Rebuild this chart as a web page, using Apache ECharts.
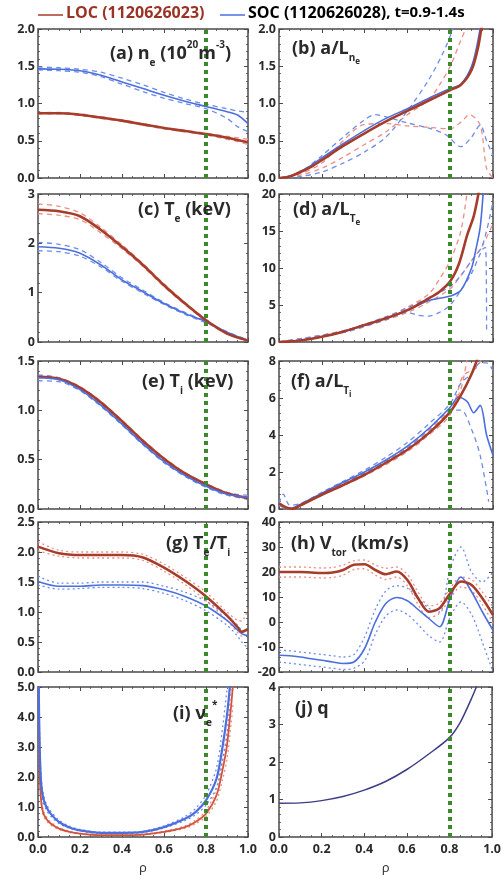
<!DOCTYPE html>
<html><head><meta charset="utf-8">
<script src="https://cdn.jsdelivr.net/npm/echarts@6/dist/echarts.min.js"></script>
<style>html,body{margin:0;padding:0;background:#fff}#c{width:504px;height:876px}</style>
</head><body><div id="c"></div>
<script>
// ---------- tick labels ----------
const xTicks = [0, 0.2, 0.4, 0.6, 0.8, 1.0];
const yTicksA = [0, 0.5, 1.0, 1.5, 2.0];
const yTicksB = [0, 0.5, 1.0, 1.5, 2.0];
const yTicksC = [0, 1, 2, 3];
const yTicksD = [0, 5, 10, 15, 20];
const yTicksE = [0, 0.5, 1.0, 1.5];
const yTicksF = [0, 2, 4, 6, 8];
const yTicksG = [0, 0.5, 1.0, 1.5, 2.0, 2.5];
const yTicksH = [-20, -10, 0, 10, 20, 30, 40];
const yTicksI = [0, 1, 2, 3, 4, 5];
const yTicksJ = [0, 1, 2, 3, 4];
const rhoRef = 0.8;

// ---------- (a) n_e ----------
const rhoA = [0, 0.1, 0.2, 0.3, 0.4, 0.5, 0.6, 0.7, 0.8, 0.9, 0.95, 1.0];
const neLOC   = [0.87, 0.87, 0.85, 0.81, 0.77, 0.72, 0.67, 0.63, 0.59, 0.54, 0.51, 0.48];
const neLOCup = [0.88, 0.88, 0.86, 0.82, 0.78, 0.73, 0.68, 0.64, 0.60, 0.56, 0.54, 0.52];
const neLOClo = [0.86, 0.86, 0.84, 0.80, 0.76, 0.71, 0.66, 0.62, 0.58, 0.52, 0.49, 0.45];
const neSOC   = [1.465, 1.46, 1.44, 1.38, 1.29, 1.20, 1.11, 1.03, 0.96, 0.89, 0.845, 0.73];
const neSOCup = [1.49, 1.48, 1.46, 1.42, 1.34, 1.25, 1.15, 1.06, 0.99, 0.93, 0.90, 0.88];
const neSOClo = [1.45, 1.44, 1.42, 1.36, 1.26, 1.16, 1.07, 1.00, 0.93, 0.80, 0.69, 0.62];

// ---------- (b) a/L_ne ----------
const rhoB = [0, 0.05, 0.1, 0.15, 0.2, 0.3, 0.4, 0.5, 0.6, 0.7, 0.8, 0.85, 0.9, 0.93, 0.95];
const bLOC = [0, 0.02, 0.08, 0.15, 0.24, 0.43, 0.60, 0.76, 0.90, 1.04, 1.18, 1.25, 1.45, 1.75, 2.1];
const bSOC = [0, 0.02, 0.09, 0.17, 0.27, 0.46, 0.64, 0.80, 0.93, 1.07, 1.20, 1.26, 1.50, 1.85, 2.2];
const rhoBLOCup = [0, 0.1, 0.2, 0.3, 0.4, 0.5, 0.6, 0.7, 0.75, 0.8, 0.85, 0.88];
const bLOCup    = [0, 0.04, 0.13, 0.28, 0.45, 0.62, 0.85, 1.05, 1.25, 1.5, 1.85, 2.05];
const rhoBLOClo = [0, 0.1, 0.2, 0.3, 0.4, 0.5, 0.6, 0.7, 0.8, 0.85, 0.89, 0.94, 0.97, 1.0];
const bLOClo    = [0, 0.06, 0.2, 0.5, 0.72, 0.73, 0.70, 0.68, 0.66, 0.75, 0.85, 0.71, 0.13, 0.0];
const rhoBSOCup = [0, 0.1, 0.2, 0.3, 0.4, 0.45, 0.5, 0.6, 0.7, 0.78, 0.85, 0.9, 0.94, 0.97, 1.0];
const bSOCup    = [0, 0.08, 0.3, 0.55, 0.78, 0.85, 0.82, 0.74, 0.67, 0.58, 0.42, 0.55, 0.71, 0.5, 0.3];
const rhoBSOClo = [0, 0.1, 0.2, 0.3, 0.4, 0.5, 0.6, 0.7, 0.77, 0.82];
const bSOClo    = [0, 0.02, 0.08, 0.2, 0.35, 0.55, 0.9, 1.32, 1.7, 2.05];

// ---------- (c) T_e ----------
const rhoC = [0, 0.1, 0.2, 0.3, 0.4, 0.5, 0.6, 0.7, 0.8, 0.9, 1.0];
const teLOC   = [2.68, 2.65, 2.55, 2.27, 1.93, 1.56, 1.15, 0.78, 0.44, 0.17, 0.03];
const teLOCup = [2.80, 2.75, 2.62, 2.32, 1.97, 1.59, 1.18, 0.80, 0.46, 0.18, 0.03];
const teLOClo = [2.60, 2.57, 2.48, 2.21, 1.89, 1.53, 1.12, 0.76, 0.42, 0.16, 0.03];
const teSOC   = [1.93, 1.90, 1.80, 1.56, 1.26, 1.02, 0.78, 0.58, 0.41, 0.20, 0.03];
const teSOCup = [2.02, 1.98, 1.87, 1.61, 1.30, 1.05, 0.80, 0.60, 0.42, 0.21, 0.04];
const teSOClo = [1.85, 1.83, 1.74, 1.52, 1.23, 0.99, 0.76, 0.56, 0.39, 0.19, 0.02];

// ---------- (d) a/L_Te ----------
const rhoDLOC = [0, 0.1, 0.2, 0.3, 0.4, 0.5, 0.6, 0.7, 0.75, 0.8, 0.84, 0.88, 0.91, 0.935];
const dLOC    = [0, 0.2, 0.7, 1.4, 2.3, 3.2, 4.3, 5.9, 6.8, 8.2, 10.5, 14.5, 17.0, 20.5];
const rhoDSOC = [0, 0.1, 0.2, 0.3, 0.4, 0.5, 0.6, 0.7, 0.75, 0.8, 0.85, 0.9, 0.92, 0.94, 0.955];
const dSOC    = [0, 0.2, 0.7, 1.4, 2.3, 3.2, 4.3, 5.6, 5.9, 6.2, 7.0, 10.0, 12.5, 15.5, 20.5];
const rhoDLOCup = [0, 0.3, 0.5, 0.6, 0.7, 0.75, 0.8, 0.85, 0.88];
const dLOCup    = [0, 1.5, 3.4, 4.7, 6.5, 8.5, 11.0, 15.0, 20.5];
const rhoDLOClo = [0, 0.3, 0.5, 0.6, 0.7, 0.8, 0.85, 0.9, 0.95, 1.0];
const dLOClo    = [0, 1.3, 3.0, 4.0, 5.4, 7.2, 9.0, 11.0, 13.0, 16.0];
const rhoDSOCup = [0, 0.3, 0.5, 0.6, 0.7, 0.8, 0.85, 0.9, 0.95, 1.0];
const dSOCup    = [0, 1.5, 3.4, 4.6, 6.0, 7.5, 9.0, 11.0, 13.0, 19.0];
const rhoDSOClo = [0, 0.3, 0.5, 0.6, 0.65, 0.7, 0.75, 0.8, 0.85, 0.9, 0.95, 0.965, 0.97];
const dSOClo    = [0, 1.3, 3.0, 4.0, 3.6, 3.5, 4.0, 5.0, 7.0, 9.3, 12.5, 12.8, 1.2];

// ---------- (e) T_i ----------
const rhoE = [0, 0.1, 0.2, 0.3, 0.4, 0.5, 0.6, 0.7, 0.8, 0.9, 1.0];
const tiLOC   = [1.34, 1.32, 1.23, 1.08, 0.89, 0.69, 0.51, 0.36, 0.25, 0.16, 0.11];
const tiLOCup = [1.35, 1.33, 1.24, 1.09, 0.90, 0.70, 0.52, 0.37, 0.26, 0.17, 0.12];
const tiLOClo = [1.33, 1.31, 1.22, 1.07, 0.88, 0.68, 0.50, 0.35, 0.24, 0.15, 0.10];
const tiSOC   = [1.33, 1.31, 1.21, 1.05, 0.86, 0.66, 0.48, 0.34, 0.23, 0.15, 0.12];
const tiSOCup = [1.36, 1.33, 1.22, 1.06, 0.87, 0.67, 0.49, 0.35, 0.24, 0.16, 0.14];
const tiSOClo = [1.30, 1.29, 1.20, 1.04, 0.85, 0.65, 0.47, 0.33, 0.22, 0.14, 0.10];

// ---------- (f) a/L_Ti ----------
const rhoFLOC = [0, 0.03, 0.06, 0.1, 0.2, 0.3, 0.4, 0.5, 0.6, 0.7, 0.8, 0.85, 0.9, 0.93];
const fLOC    = [0.3, 0.1, 0.0, 0.2, 0.77, 1.3, 1.85, 2.5, 3.2, 4.1, 5.25, 6.15, 7.3, 8.2];
const rhoFSOC = [0, 0.03, 0.06, 0.1, 0.2, 0.3, 0.4, 0.5, 0.6, 0.7, 0.8, 0.84, 0.88, 0.91, 0.94, 0.97, 1.0];
const fSOC    = [0.3, 0.1, 0.05, 0.25, 0.85, 1.45, 2.0, 2.65, 3.4, 4.35, 5.5, 6.05, 5.8, 5.2, 5.6, 4.0, 2.9];
const rhoFLOCup = [0, 0.05, 0.1, 0.2, 0.3, 0.4, 0.5, 0.6, 0.7, 0.8, 0.85, 0.88];
const fLOCup    = [0.3, 0.05, 0.25, 0.8, 1.35, 1.9, 2.6, 3.3, 4.2, 5.4, 6.5, 8.2];
const rhoFLOClo = [0, 0.05, 0.1, 0.2, 0.3, 0.4, 0.5, 0.6, 0.7, 0.8, 0.86, 0.92, 0.95];
const fLOClo    = [0.2, 0.0, 0.2, 0.75, 1.25, 1.8, 2.4, 3.1, 4.0, 5.1, 7.2, 7.6, 8.2];
const rhoFSOCup = [0, 0.02, 0.05, 0.1, 0.2, 0.3, 0.4, 0.5, 0.6, 0.7, 0.8, 0.85, 0.9, 0.94, 0.97, 1.0];
const fSOCup    = [0.3, 0.8, 0.2, 0.3, 0.9, 1.5, 2.1, 2.8, 3.6, 4.6, 5.7, 6.8, 7.3, 7.9, 7.9, 7.5];
const rhoFSOClo = [0, 0.05, 0.1, 0.2, 0.3, 0.4, 0.5, 0.6, 0.7, 0.8, 0.85, 0.9, 0.94, 0.98];
const fSOClo    = [0.2, 0.0, 0.2, 0.8, 1.4, 1.95, 2.55, 3.3, 4.3, 5.3, 5.35, 4.3, 2.9, 0.4];

// ---------- (g) Te/Ti ----------
const rhoG = [0, 0.1, 0.2, 0.3, 0.4, 0.5, 0.6, 0.7, 0.8, 0.9, 0.95, 0.97, 1.0];
const gLOC   = [2.09, 1.98, 1.95, 1.95, 1.95, 1.91, 1.74, 1.52, 1.26, 0.94, 0.75, 0.67, 0.72];
const gLOCup = [2.17, 2.03, 2.00, 2.00, 2.00, 1.96, 1.80, 1.58, 1.33, 1.00, 0.86, 0.85, 1.05];
const gLOClo = [2.02, 1.93, 1.90, 1.90, 1.90, 1.86, 1.68, 1.46, 1.19, 0.86, 0.66, 0.60, 0.62];
const gSOC   = [1.51, 1.43, 1.43, 1.45, 1.45, 1.44, 1.37, 1.26, 1.10, 0.86, 0.70, 0.64, 0.60];
const gSOCup = [1.60, 1.48, 1.48, 1.50, 1.50, 1.50, 1.43, 1.33, 1.18, 0.93, 0.78, 0.70, 0.66];
const gSOClo = [1.45, 1.38, 1.39, 1.41, 1.41, 1.39, 1.31, 1.19, 1.02, 0.78, 0.60, 0.50, 0.40];

// ---------- (h) V_tor ----------
const rhoH = [0, 0.05, 0.1, 0.15, 0.2, 0.25, 0.3, 0.35, 0.4, 0.45, 0.5, 0.55, 0.6, 0.65, 0.7, 0.75, 0.8, 0.85, 0.9, 0.95, 1.0];
const hLOC   = [20, 20, 20, 19.8, 19.6, 19.8, 20.8, 22.9, 23.1, 20.8, 19.1, 20.2, 16.8, 9.5, 4.1, 5.5, 11.5, 16.2, 14.8, 9.5, 2.8];
const hLOCup = [22, 22, 22, 21.8, 21.6, 21.8, 22.8, 24.5, 24.8, 22.8, 21.5, 22.0, 19.0, 12.0, 6.5, 7.5, 13.5, 18.0, 17.0, 12.0, 6.0];
const hLOClo = [18, 18, 18, 17.8, 17.6, 17.8, 18.8, 21.0, 21.3, 18.8, 17.0, 18.0, 14.5, 7.0, 1.8, 3.5, 9.5, 14.0, 12.5, 7.0, -0.5];
const hSOC   = [-13.3, -13.5, -14, -14.7, -15.3, -16, -16.6, -16, -10.6, 0, 7.5, 9.8, 8.5, 5, 1.4, -1.9, 9.6, 18, 12.1, 4.1, -3.3];
const hSOCup = [-11.3, -11.5, -12, -12.5, -13, -13.5, -14, -13, -6, 5, 12.5, 14.5, 13.5, 9.5, 5.5, 4, 21.5, 30, 20, 16, 20];
const hSOClo = [-16, -16.5, -17, -17.5, -18, -18.5, -19, -18.5, -15.5, -5, 2.5, 4.8, 3, -1, -5.5, -8, 2, 8, 3, -8, -20];

// ---------- (i) nu_e* ----------
const rhoISOC = [0.003, 0.008, 0.015, 0.025, 0.04, 0.06, 0.1, 0.15, 0.2, 0.3, 0.4, 0.5, 0.6, 0.7, 0.75, 0.8, 0.85, 0.88, 0.9, 0.915];
const iSOC    = [5.2, 3.0, 1.8, 1.3, 1.0, 0.78, 0.5, 0.32, 0.22, 0.14, 0.14, 0.17, 0.33, 0.61, 0.83, 1.22, 1.94, 3.06, 4.06, 5.1];
const iSOCup  = [5.5, 3.3, 2.0, 1.45, 1.1, 0.86, 0.56, 0.36, 0.25, 0.16, 0.16, 0.19, 0.37, 0.68, 0.95, 1.4, 2.3, 3.7, 4.9, 5.5];
const iSOClo  = [4.8, 2.7, 1.6, 1.15, 0.9, 0.7, 0.45, 0.29, 0.2, 0.12, 0.12, 0.15, 0.3, 0.55, 0.74, 1.06, 1.65, 2.6, 3.4, 4.3];
const rhoILOC = [0.003, 0.008, 0.015, 0.025, 0.04, 0.06, 0.1, 0.15, 0.2, 0.3, 0.4, 0.5, 0.6, 0.7, 0.75, 0.8, 0.85, 0.88, 0.9, 0.92, 0.93];
const iLOC    = [5.2, 2.2, 1.2, 0.8, 0.6, 0.45, 0.28, 0.17, 0.11, 0.06, 0.06, 0.08, 0.17, 0.33, 0.5, 0.78, 1.39, 2.28, 3.06, 4.4, 5.2];
const iLOCup  = [5.5, 2.5, 1.35, 0.9, 0.67, 0.5, 0.31, 0.19, 0.12, 0.07, 0.07, 0.09, 0.19, 0.37, 0.56, 0.88, 1.6, 2.6, 3.5, 5.0, 5.6];
const iLOClo  = [4.8, 2.0, 1.1, 0.72, 0.54, 0.4, 0.25, 0.15, 0.1, 0.05, 0.05, 0.07, 0.15, 0.29, 0.44, 0.68, 1.2, 1.95, 2.6, 3.8, 4.5];

// ---------- (j) q ----------
const rhoJ = [0, 0.1, 0.2, 0.3, 0.4, 0.5, 0.6, 0.7, 0.8, 0.85, 0.9, 0.93];
const qProf = [0.9, 0.91, 0.97, 1.08, 1.25, 1.48, 1.8, 2.2, 2.65, 3.05, 3.65, 4.05];

// ---------- styles ----------
const C = {
  loc: '#a63d2b', locThin: '#d0553d', soc: '#4b6fdf', locB: '#ec8e84', socB: '#6f8ce8',
  green: '#3c8a2c', frame: '#4a4a4a', text: '#2a2a2a', q: '#3d3f86'
};
const FONT = 'Open Sans';
const LEFT = {left: 38, width: 210}, RIGHT = {left: 279, width: 214};
const ROWS = [[29, 149], [194, 148], [361, 148], [522, 150], [687, 150]];

function pts(xs, ys) { return xs.map((x, i) => [x, ys[i]]); }

const panels = [
  {col: LEFT, row: 0, ticks: yTicksA, dec: 1, bt: 'dashed', sets: [
    [rhoA, neLOCup, 'locB'], [rhoA, neLOClo, 'locB'], [rhoA, neSOCup, 'socB'], [rhoA, neSOClo, 'socB'],
    [rhoA, neSOC, 'soc'], [rhoA, neLOC, 'loc']]},
  {col: RIGHT, row: 0, ticks: yTicksB, dec: 1, bt: 'dashed', sets: [
    [rhoBLOCup, bLOCup, 'locB'], [rhoBLOClo, bLOClo, 'locB'], [rhoBSOCup, bSOCup, 'socB'], [rhoBSOClo, bSOClo, 'socB'],
    [rhoB, bSOC, 'soc'], [rhoB, bLOC, 'loc']]},
  {col: LEFT, row: 1, ticks: yTicksC, dec: 0, bt: 'dashed', sets: [
    [rhoC, teLOCup, 'locB'], [rhoC, teLOClo, 'locB'], [rhoC, teSOCup, 'socB'], [rhoC, teSOClo, 'socB'],
    [rhoC, teSOC, 'soc'], [rhoC, teLOC, 'loc']]},
  {col: RIGHT, row: 1, ticks: yTicksD, dec: 0, bt: 'dashed', sets: [
    [rhoDLOCup, dLOCup, 'locB'], [rhoDLOClo, dLOClo, 'locB'], [rhoDSOCup, dSOCup, 'socB'], [rhoDSOClo, dSOClo, 'socB'],
    [rhoDSOC, dSOC, 'soc'], [rhoDLOC, dLOC, 'loc']]},
  {col: LEFT, row: 2, ticks: yTicksE, dec: 1, bt: 'dashed', sets: [
    [rhoE, tiLOCup, 'locB'], [rhoE, tiLOClo, 'locB'], [rhoE, tiSOCup, 'socB'], [rhoE, tiSOClo, 'socB'],
    [rhoE, tiLOC, 'loc'], [rhoE, tiSOC, 'soc']]},
  {col: RIGHT, row: 2, ticks: yTicksF, dec: 0, bt: 'dashed', sets: [
    [rhoFLOCup, fLOCup, 'locB'], [rhoFLOClo, fLOClo, 'locB'], [rhoFSOCup, fSOCup, 'socB'], [rhoFSOClo, fSOClo, 'socB'],
    [rhoFSOC, fSOC, 'soc'], [rhoFLOC, fLOC, 'loc']]},
  {col: LEFT, row: 3, ticks: yTicksG, dec: 1, bt: 'dotted', sets: [
    [rhoG, gLOCup, 'locB'], [rhoG, gLOClo, 'locB'], [rhoG, gSOCup, 'socB'], [rhoG, gSOClo, 'socB'],
    [rhoG, gSOC, 'soc'], [rhoG, gLOC, 'loc']]},
  {col: RIGHT, row: 3, ticks: yTicksH, dec: 0, bt: 'dotted', sets: [
    [rhoH, hLOCup, 'locB'], [rhoH, hLOClo, 'locB'], [rhoH, hSOCup, 'socB'], [rhoH, hSOClo, 'socB'],
    [rhoH, hSOC, 'soc'], [rhoH, hLOC, 'loc']]},
  {col: LEFT, row: 4, ticks: yTicksI, dec: 1, bt: 'dotted', sets: [
    [rhoILOC, iLOCup, 'locB'], [rhoILOC, iLOClo, 'locB'], [rhoISOC, iSOCup, 'socB'], [rhoISOC, iSOClo, 'socB'],
    [rhoILOC, iLOC, 'locThin'], [rhoISOC, iSOC, 'socThick']]},
  {col: RIGHT, row: 4, ticks: yTicksJ, dec: 0, bt: 'dotted', sets: [
    [rhoJ, qProf, 'q']]}
];

const grid = [], xAxis = [], yAxis = [], series = [];
const tickStyle = {show: true, inside: true, length: 4, lineStyle: {color: C.frame, width: 1}};
const minorStyle = {show: true, splitNumber: 4, length: 2, lineStyle: {color: C.frame, width: 0.8}};
const lblStyle = {color: C.text, fontSize: 12.5, fontWeight: 'bold', fontFamily: FONT};

panels.forEach((p, i) => {
  const [top, h] = ROWS[p.row];
  grid.push({left: p.col.left, width: p.col.width, top: top, height: h, show: true,
    borderColor: C.frame, borderWidth: 1.5, backgroundColor: '#fff', containLabel: false});
  const last = p.row === 4;
  const xBase = {type: 'value', gridIndex: i, min: xTicks[0], max: xTicks[xTicks.length - 1],
    interval: xTicks[1] - xTicks[0], splitLine: {show: false}, axisLine: {show: false, onZero: false},
    axisTick: tickStyle, minorTick: minorStyle};
  xAxis.push(Object.assign({}, xBase, {position: 'bottom',
    axisLabel: {show: last, margin: 6, formatter: v => v.toFixed(1), ...lblStyle},
    name: last ? 'ρ' : '', nameLocation: 'middle', nameGap: 25,
    nameTextStyle: {color: C.text, fontSize: 13, fontFamily: FONT}}));
  xAxis.push(Object.assign({}, xBase, {position: 'top', axisLabel: {show: false}}));
  const t = p.ticks;
  const yBase = {type: 'value', gridIndex: i, min: t[0], max: t[t.length - 1], interval: t[1] - t[0],
    splitLine: {show: false}, axisLine: {show: false, onZero: false}, axisTick: tickStyle,
    minorTick: Object.assign({}, minorStyle, {splitNumber: 5})};
  yAxis.push(Object.assign({}, yBase, {position: 'left',
    axisLabel: {show: true, margin: 3, formatter: v => v.toFixed(p.dec), ...lblStyle}}));
  yAxis.push(Object.assign({}, yBase, {position: 'right', axisLabel: {show: false}}));

  p.sets.forEach(([xs, ys, role], k) => {
    let ls;
    if (role === 'loc') ls = {color: C.loc, width: 2.6, type: 'solid'};
    else if (role === 'locThin') ls = {color: C.locThin, width: 1.8, type: 'solid'};
    else if (role === 'soc') ls = {color: C.soc, width: 1.6, type: 'solid'};
    else if (role === 'socThick') ls = {color: C.soc, width: 2.2, type: 'solid'};
    else if (role === 'q') ls = {color: C.q, width: 1.5, type: 'solid'};
    else {
      const dash = p.bt === 'dashed' ? [5, 4] : [2, 3];
      ls = {color: role === 'locB' ? C.locB : C.socB, width: 1.3, type: dash};
    }
    const s = {type: 'line', xAxisIndex: 2 * i, yAxisIndex: 2 * i, data: pts(xs, ys),
      showSymbol: false, smooth: 0.3, lineStyle: ls, clip: true, silent: true, z: 2 + k};
    if (k === p.sets.length - 1) {
      s.markLine = {silent: true, symbol: ['none', 'none'], label: {show: false},
        lineStyle: {color: C.green, width: 4, type: [4, 4]}, z: 20,
        data: [{xAxis: rhoRef}]};
    }
    series.push(s);
  });
});

const rich = {
  m: {fontSize: 18, fontWeight: 'bold', fontFamily: FONT, color: C.text, lineHeight: 24, verticalAlign: 'middle'},
  sub: {fontSize: 10, fontWeight: 'bold', fontFamily: FONT, color: C.text, verticalAlign: 'bottom', lineHeight: 14, padding: [0, 0, -2, 0]},
  ss: {fontSize: 8, fontWeight: 'bold', fontFamily: FONT, color: C.text, verticalAlign: 'bottom', lineHeight: 10, padding: [0, 0, -5, 0]},
  sup: {fontSize: 10, fontWeight: 'bold', fontFamily: FONT, color: C.text, verticalAlign: 'top', lineHeight: 14, padding: [-2, 0, 0, 0]}
};
function label(x, y, text) {
  return {type: 'text', left: x, top: y - 12, z: 50, style: {text: text, rich: rich, font: 'bold 18px ' + FONT, fill: C.text}};
}
const graphic = [
  {type: 'line', shape: {x1: 38, y1: 15, x2: 63, y2: 15}, style: {stroke: C.loc, lineWidth: 1.5}},
  {type: 'text', left: 66, top: 5, style: {text: 'LOC (1120626023)', font: 'bold 16px ' + FONT, fill: '#9a3323'}},
  {type: 'line', shape: {x1: 220, y1: 15, x2: 245, y2: 15}, style: {stroke: C.soc, lineWidth: 1.5}},
  {type: 'text', left: 248, top: 5, style: {text: '{s|SOC (1120626028)}{k|, t=0.9-1.4s}',
    rich: {s: {font: 'bold 16px ' + FONT, color: '#3d62c2'}, k: {font: 'bold 15px ' + FONT, color: '#222'}}}},
  label(110, 52, '{m|(a) n}{sub|e}{m| (10}{sup|20}{m|m}{sup|-3}{m|)}'),
  label(292, 52, '{m|(b) a/L}{sub|n}{ss|e}'),
  label(138, 213, '{m|(c) T}{sub|e}{m| (keV)}'),
  label(293, 213, '{m|(d) a/L}{sub|T}{ss|e}'),
  label(142, 385, '{m|(e) T}{sub|i}{m| (keV)}'),
  label(291, 385, '{m|(f) a/L}{sub|T}{ss|i}'),
  label(166, 547, '{m|(g) T}{sub|e}{m|/T}{sub|i}'),
  label(291, 547, '{m|(h) V}{sub|tor}{m| (km/s)}'),
  label(173, 712, '{m|(i) ν}{sub|e}{sup|*}'),
  label(295, 712, '{m|(j) q}')
];

const chart = echarts.init(document.getElementById('c'), null, {renderer: 'canvas'});
chart.setOption({animation: false, backgroundColor: '#fff', grid, xAxis, yAxis, series, graphic});
</script></body></html>
